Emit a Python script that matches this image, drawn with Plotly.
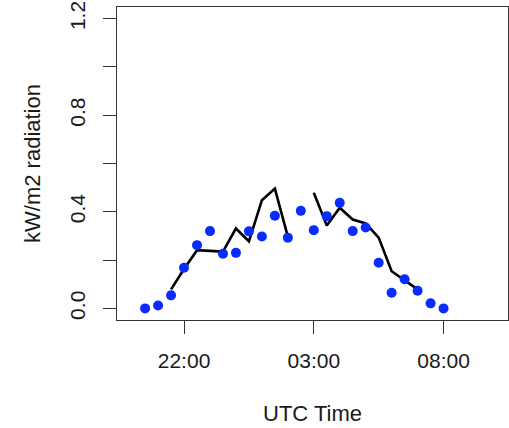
import plotly.graph_objects as go
from datetime import datetime, timedelta

# ---- data ----
times = ["20:30", "21:00", "21:30", "22:00", "22:30", "23:00", "23:30",
         "00:00", "00:30", "01:00", "01:30", "02:00", "02:30", "03:00",
         "03:30", "04:00", "04:30", "05:00", "05:30", "06:00", "06:30",
         "07:00", "07:30", "08:00"]
observed = [0.0, 0.012, 0.054, 0.168, 0.262, 0.320, 0.226,
            0.230, 0.319, 0.298, 0.384, 0.293, 0.404, 0.324,
            0.382, 0.437, 0.320, 0.335, 0.189, 0.065, 0.121,
            0.073, 0.021, 0.0]
modelled = [None, None, 0.079, 0.163, 0.241, 0.237, 0.235,
            0.331, 0.278, 0.448, 0.496, 0.297, None, 0.479,
            0.343, 0.417, 0.368, 0.352, 0.293, 0.154, 0.116,
            0.079, None, None]
y_ticks = [0.0, 0.2, 0.4, 0.6, 0.8, 1.0, 1.2]
y_ticklabels = ["0.0", "", "0.4", "", "0.8", "", "1.2"]
x_tick_labels = ["22:00", "03:00", "08:00"]

# build datetimes crossing midnight
base = datetime(2020, 1, 1)
def to_dt(s):
    h, m = map(int, s.split(":"))
    d = base + timedelta(hours=h, minutes=m)
    if h < 12:
        d += timedelta(days=1)
    return d

x = [to_dt(t) for t in times]
x_ticks = [to_dt(t) for t in x_tick_labels]

fig = go.Figure()
fig.add_trace(go.Scatter(x=x, y=modelled, mode="lines",
                         line=dict(color="black", width=2.6),
                         connectgaps=False, showlegend=False))
fig.add_trace(go.Scatter(x=x, y=observed, mode="markers",
                         marker=dict(color="#0a2bff", size=10),
                         showlegend=False))

font = dict(family="Liberation Sans, Arial, sans-serif", size=21, color="#1a1a1a")
title_font = dict(family="Liberation Sans, Arial, sans-serif", size=22, color="#1a1a1a")

fig.update_layout(
    width=509, height=428,
    margin=dict(l=117, r=1, t=7, b=108),
    paper_bgcolor="white", plot_bgcolor="white",
    font=font,
    xaxis=dict(
        range=[base + timedelta(hours=19, minutes=25),
               base + timedelta(days=1, hours=10, minutes=29)],
        tickvals=x_ticks, ticktext=x_tick_labels,
        ticks="outside", ticklen=13, tickwidth=1, tickcolor="#333",
        showline=True, linecolor="#333", linewidth=1, mirror=True,
        showgrid=False, zeroline=False,
        ticklabelstandoff=9,
        title=dict(text="UTC Time", standoff=34, font=title_font),
    ),
    yaxis=dict(
        range=[-0.048, 1.248],
        tickvals=y_ticks, ticktext=y_ticklabels,
        tickangle=-90,
        ticks="outside", ticklen=13, tickwidth=1, tickcolor="#333",
        showline=True, linecolor="#333", linewidth=1, mirror=True,
        showgrid=False, zeroline=False,
        ticklabelstandoff=10,
        title=dict(text="kW/m2 radiation", standoff=18, font=title_font),
    ),
)

fig.write_html("out.html")
